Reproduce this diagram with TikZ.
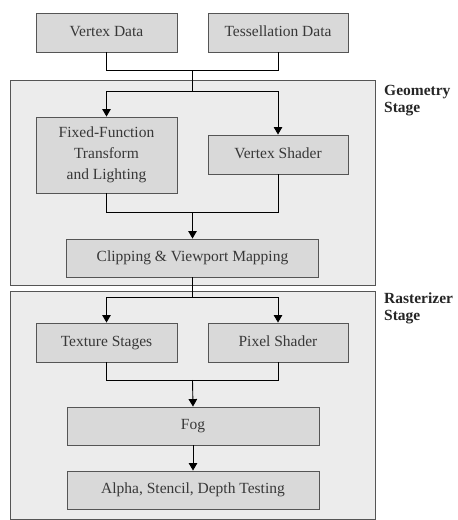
\documentclass[tikz,border=0pt]{standalone}
\usepackage{fontspec}
\setmainfont{Liberation Serif}
\usetikzlibrary{arrows.meta}
\definecolor{stagefill}{HTML}{ECECEC}
\definecolor{boxfill}{HTML}{D9D9D9}
\definecolor{edge}{HTML}{555555}
\definecolor{txt}{HTML}{383838}
\tikzset{
  stagebox/.style={draw=edge, fill=stagefill, line width=0.9pt, inner sep=0pt},
  procbox/.style={draw=edge, fill=boxfill, line width=0.9pt, inner sep=0pt, align=center,
    font=\fontsize{15.5}{21}\selectfont, text=txt},
  onebox/.style={procbox, text height=10.5pt, text depth=3.5pt},
  conn/.style={line width=0.9pt, black},
  arr/.style={conn, -{Triangle[width=8.5pt,length=7.5pt]}},
  stagelabel/.style={anchor=base west, inner sep=0pt, font=\fontsize{15.5}{18}\selectfont\bfseries, text=black!85}
}
\begin{document}
\begin{tikzpicture}[x=1pt,y=-1pt]
\useasboundingbox (0,0) rectangle (458,520);
% stages
\node[stagebox, minimum width=365pt, minimum height=205pt] (geo) at (192.5,182.5) {};
\node[stagebox, minimum width=365pt, minimum height=228pt] (ras) at (192.5,405) {};
% boxes
\node[onebox, minimum width=141pt, minimum height=39pt] (vd) at (106.5,32.5) {Vertex Data};
\node[onebox, minimum width=140pt, minimum height=39pt] (td) at (278,32.5) {Tessellation Data};
\node[procbox, minimum width=141pt, minimum height=76pt] (ff) at (106.5,155) {Fixed-Function\\Transform\\and Lighting};
\node[onebox, minimum width=140pt, minimum height=39pt] (vs) at (278,154.5) {Vertex Shader};
\node[onebox, minimum width=252pt, minimum height=38pt] (clip) at (192.5,258) {Clipping \& Viewport Mapping};
\node[onebox, minimum width=141pt, minimum height=39pt] (ts) at (106.5,342.5) {Texture Stages};
\node[onebox, minimum width=140pt, minimum height=39pt] (ps) at (278,342.5) {Pixel Shader};
\node[onebox, minimum width=252pt, minimum height=38pt] (fog) at (193,426) {Fog};
\node[onebox, minimum width=252pt, minimum height=38pt] (alpha) at (193,490) {Alpha, Stencil, Depth Testing};
% labels
\node[stagelabel] (gl1) at (384,95) {Geometry};
\node[stagelabel] (gl2) at (384,112) {Stage};
\node[stagelabel] (rl1) at (384,303) {Rasterizer};
\node[stagelabel] (rl2) at (384,320) {Stage};
% junctions
\coordinate (j1) at (192.5,70);
\coordinate (j2) at (192.5,91);
\coordinate (j3) at (192.5,212);
\coordinate (j4) at (192.5,297);
\coordinate (j5) at (192.5,380);
% connectors
\draw[conn] (vd.south) |- (j1);
\draw[conn] (td.south) |- (j1);
\draw[conn] (j1) -- (j2);
\draw[arr] (j2) -| (ff.north);
\draw[arr] (j2) -| (vs.north);
\draw[conn] (ff.south) |- (j3);
\draw[conn] (vs.south) |- (j3);
\draw[arr] (j3) -- (clip.north);
\draw[conn] (clip.south) -- (j4);
\draw[arr] (j4) -| (ts.north);
\draw[arr] (j4) -| (ps.north);
\draw[conn] (ts.south) |- (j5);
\draw[conn] (ps.south) |- (j5);
\draw[arr] (j5) -- (fog.north);
\draw[arr] (fog.south) -- (alpha.north);
\end{tikzpicture}
\end{document}
